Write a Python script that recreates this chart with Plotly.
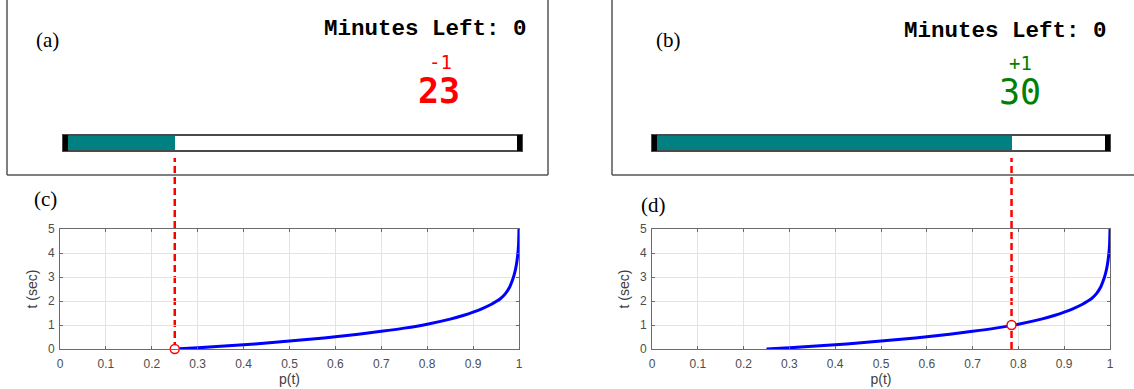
import plotly.graph_objects as go

W, H = 1134, 389

# ---------------- data ----------------
curve_p = [0.25, 0.30, 0.35, 0.40, 0.45, 0.50, 0.55, 0.60, 0.65, 0.70, 0.75, 0.80,
           0.85, 0.88, 0.90, 0.92, 0.94, 0.95, 0.96, 0.97, 0.98, 0.985, 0.99, 0.994,
           0.997, 0.999, 1.0]
curve_t = [0.00, 0.05, 0.11, 0.175, 0.25, 0.33, 0.415, 0.51, 0.615, 0.735, 0.87, 1.035,
           1.245, 1.405, 1.535, 1.685, 1.865, 1.975, 2.105, 2.295, 2.595, 2.83, 3.13, 3.48,
           3.88, 4.33, 5.0]

panel_p = [0.25, 0.785]          # progress value of each case (a/c and b/d)
panel_t = [0.0, 1.0]             # time of marker on the curve
minutes_left = [0, 0]
deltas = ["-1", "+1"]
scores = ["23", "30"]
score_colors = ["#ff0000", "#008000"]

x_ticks = [0, 0.1, 0.2, 0.3, 0.4, 0.5, 0.6, 0.7, 0.8, 0.9, 1]
x_ticktext = ["0", "0.1", "0.2", "0.3", "0.4", "0.5", "0.6", "0.7", "0.8", "0.9", "1"]
y_ticks = [0, 1, 2, 3, 4, 5]
y_ticktext = ["0", "1", "2", "3", "4", "5"]


def px(x):
    return x / W


def py(y):
    return 1 - y / H


# pixel geometry
plot_c = (60, 519)
plot_d = (652, 1110)
plot_y = (229, 349)
bar_a = (63, 522)
bar_b = (652, 1110)
bar_y = (135, 151)

fig = go.Figure()

axis_common = dict(
    showline=True, linecolor="#6b6b6b", linewidth=1, mirror="ticks",
    ticks="inside", ticklen=3, tickcolor="#6b6b6b",
    showgrid=True, gridcolor="#e3e3e3", gridwidth=1, zeroline=False,
    automargin=False,
    tickfont=dict(family="Liberation Sans, Arial", size=12, color="#4d4d4d"),
)
title_font = dict(family="Liberation Sans, Arial", size=14, color="#404040")

for i, (plot_x, xa, ya) in enumerate([(plot_c, "x", "y"), (plot_d, "x2", "y2")]):
    fig.add_trace(go.Scatter(
        x=curve_p, y=curve_t, mode="lines", xaxis=xa, yaxis=ya,
        line=dict(color="#0000ff", width=3, shape="spline", smoothing=0.6),
        showlegend=False, hoverinfo="skip"))
    fig.add_trace(go.Scatter(
        x=[panel_p[i]], y=[panel_t[i]], mode="markers", xaxis=xa, yaxis=ya,
        marker=dict(symbol="circle", size=9, color="white",
                    line=dict(color="#ff0000", width=1.5)),
        cliponaxis=False, showlegend=False, hoverinfo="skip"))
    fig.add_shape(type="line", xref=xa, yref="paper",
                  x0=panel_p[i], x1=panel_p[i], y0=py(plot_y[1]), y1=py(158),
                  line=dict(color="#ff0000", width=2.5, dash="7px,4px"), layer="below")

fig.add_trace(go.Bar(x=[panel_p[0]], y=[0], base=[0], orientation="h", xaxis="x3", yaxis="y3",
                     width=1, marker=dict(color="#008080", line=dict(width=0)),
                     showlegend=False, hoverinfo="skip"))
fig.add_trace(go.Bar(x=[panel_p[1]], y=[0], base=[0], orientation="h", xaxis="x4", yaxis="y4",
                     width=1, marker=dict(color="#008080", line=dict(width=0)),
                     showlegend=False, hoverinfo="skip"))

hidden = dict(visible=False, showgrid=False, zeroline=False, fixedrange=True, automargin=False)

xcommon = dict(range=[0, 1], tickvals=x_ticks, ticktext=x_ticktext, ticklabelstandoff=4,
               title=dict(text="p(t)", standoff=3, font=title_font), **axis_common)
ycommon = dict(range=[0, 5], tickvals=y_ticks, ticktext=y_ticktext, ticklabelstandoff=2,
               title=dict(text="t (sec)", standoff=7, font=title_font), **axis_common)

fig.update_layout(
    width=W, height=H, margin=dict(l=0, r=0, t=0, b=0, pad=0, autoexpand=False),
    paper_bgcolor="white", plot_bgcolor="white", showlegend=False, bargap=0,
    xaxis=dict(domain=[px(plot_c[0]), px(plot_c[1])], anchor="y", **xcommon),
    yaxis=dict(domain=[py(plot_y[1]), py(plot_y[0])], anchor="x", **ycommon),
    xaxis2=dict(domain=[px(plot_d[0]), px(plot_d[1])], anchor="y2", **xcommon),
    yaxis2=dict(domain=[py(plot_y[1]), py(plot_y[0])], anchor="x2", **ycommon),
    xaxis3=dict(domain=[px(bar_a[0]), px(bar_a[1])],
                range=[(bar_a[0] - plot_c[0]) / (plot_c[1] - plot_c[0]),
                       (bar_a[1] - plot_c[0]) / (plot_c[1] - plot_c[0])],
                anchor="y3", **hidden),
    yaxis3=dict(domain=[py(bar_y[1]), py(bar_y[0])], range=[-0.5, 0.5], anchor="x3", **hidden),
    xaxis4=dict(domain=[px(bar_b[0]), px(bar_b[1])], range=[0, 1], anchor="y4", **hidden),
    yaxis4=dict(domain=[py(bar_y[1]), py(bar_y[0])], range=[-0.5, 0.5], anchor="x4", **hidden),
)

frame = dict(color="#555555", width=1.5)
for x0, y0, x1, y1 in [(7, 0, 7, 175), (7, 175, 548, 175), (548, 0, 548, 175),
                       (612, 0, 612, 175), (612, 175, 1134, 175)]:
    fig.add_shape(type="line", xref="paper", yref="paper",
                  x0=px(x0), x1=px(x1), y0=py(y0), y1=py(y1), line=frame)

for bx in [bar_a, bar_b]:
    fig.add_shape(type="rect", xref="paper", yref="paper",
                  x0=px(bx[0]), x1=px(bx[1]), y0=py(bar_y[1]), y1=py(bar_y[0]),
                  line=dict(color="#4a4a4a", width=2), fillcolor="rgba(0,0,0,0)")
    for cx0, cx1 in [(bx[0], bx[0] + 5), (bx[1] - 5, bx[1])]:
        fig.add_shape(type="rect", xref="paper", yref="paper",
                      x0=px(cx0), x1=px(cx1), y0=py(bar_y[1]), y1=py(bar_y[0]),
                      line=dict(width=0), fillcolor="#000000")

serif = "Liberation Serif, Times New Roman"
mono = "Liberation Mono, Courier New"
dmono = "DejaVu Sans Mono, monospace"


def txt(x, y, s, family, size, color="#000000", weight="normal"):
    fig.add_annotation(x=px(x), y=py(y), xref="paper", yref="paper", text=s,
                       showarrow=False, xanchor="center", yanchor="middle",
                       font=dict(family=family, size=size, color=color, weight=weight))


txt(47, 40, "(a)", serif, 21)
txt(668, 40, "(b)", serif, 21)
txt(45, 199, "(c)", serif, 21)
txt(653, 205, "(d)", serif, 21)

for cx, cy, i in [(425, 28.5, 0), (1005, 31, 1)]:
    txt(cx, cy, "Minutes Left: %d" % minutes_left[i], mono, 22.5, "#000000", "bold")

txt(440, 62, deltas[0], dmono, 19, score_colors[0])
txt(439, 91.5, scores[0], dmono, 35, score_colors[0], "bold")
txt(1020, 63, deltas[1], dmono, 19, score_colors[1])
txt(1020, 92.5, scores[1], dmono, 35, score_colors[1])

fig.write_html("out.html", config={"displayModeBar": False},
               post_script="document.body.style.margin='0px';")
